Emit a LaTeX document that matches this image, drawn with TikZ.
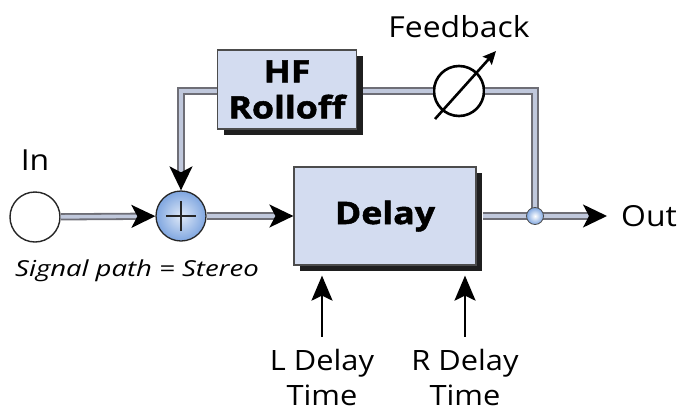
\documentclass[tikz,border=0pt]{standalone}
\usepackage{fontspec}
\setmainfont{Open Sans}[FakeStretch=1.1]
\newfontfamily\blockfont{Open Sans}[FakeStretch=1.15, BoldFeatures={FakeBold=1.6}]
\newfontfamily\notefont{Open Sans}[FakeStretch=1.25]
\usetikzlibrary{arrows.meta,shadows}

\definecolor{boxfill}{HTML}{D3DCF0}
\definecolor{pipeedge}{HTML}{6E6E76}
\definecolor{pipefill}{HTML}{C0C8DC}
\definecolor{ballblue}{HTML}{7FA6E0}

\begin{document}
\begin{tikzpicture}[x=1pt, y=-1pt,
  block/.style    = {draw=black!70, line width=1.2pt, fill=boxfill, align=center,
                     inner sep=0pt,
                     drop shadow={shadow xshift=6pt, shadow yshift=-6pt,
                                  fill=black!88, opacity=1}},
  pipe/.style     = {line width=1.8pt, draw=pipeedge, double=pipefill,
                     double distance=3.6pt},
  flow/.style     = {pipe, -{Stealth[length=24pt,width=23pt,inset=6pt,color=black]}},
  port/.style     = {circle, draw=black!85, line width=1.4pt, fill=white,
                     minimum size=50pt, inner sep=0pt},
  sum/.style      = {circle, draw=black!85, line width=1.3pt, minimum size=50pt,
                     inner sep=0pt, inner color=ballblue!25, outer color=ballblue,
                     path picture={
                       \draw[line width=2.4pt] (path picture bounding box.center)
                         +(-15pt,0) -- +(15pt,0) +(0,-15pt) -- +(0,15pt);}},
  dot/.style      = {circle, draw=black!70, line width=0.8pt, minimum size=17pt,
                     inner sep=0pt, inner color=white, outer color=ballblue},
  knob/.style     = {circle, draw=black, line width=2.6pt, fill=white,
                     minimum size=50pt, inner sep=0pt},
  knobarrow/.style= {line width=2.6pt, -{Stealth[length=13pt,width=12pt,inset=2pt]}},
  ctl/.style      = {line width=2.6pt, shorten >=10pt,
                     -{Stealth[length=25pt,width=21pt,inset=5pt]}},
  lbl/.style      = {font=\fontsize{29}{32}\selectfont, inner sep=3pt},
  note/.style     = {font=\notefont\itshape\fontsize{22}{24}\selectfont, inner sep=2pt},
  ctltext/.style  = {font=\fontsize{28}{35}\selectfont, align=center,
                     inner xsep=3pt, inner ysep=12pt},
]
  \useasboundingbox (0,0) rectangle (684,415);

  \node[port] (in) at (35,217) {};
  \node[lbl] (inlbl) at (35,160) {In};
  \node[sum] (sum) at (181,216) {};
  \node[block, minimum width=182pt, minimum height=98pt,
        font=\blockfont\bfseries\fontsize{31}{34}\selectfont] (delay) at (385,216) {Delay};
  \node[block, minimum width=139pt, minimum height=79pt,
        font=\blockfont\bfseries\fontsize{31}{36}\selectfont] (hf) at (287,89.5) {HF\\Rolloff};
  \node[knob] (fb) at (459,91) {};
  \node[lbl] (fblbl) at (459,27) {Feedback};
  \coordinate (jn) at (535,216);
  \node[lbl, anchor=west] (out) at (618,216) {Out};
  \node[note] (sig) at (137,271) {Signal path = Stereo};
  \node[ctltext] (ldt) at (322,377) {L Delay\\Time};
  \node[ctltext] (rdt) at (465,377) {R Delay\\Time};

  % signal path
  \draw[flow] (in) -- (sum);
  \draw[flow] (sum) -- (delay);
  \draw[flow, shorten <=6pt, shorten >=11pt] (delay) -- (out);

  % feedback loop
  \draw[pipe] (jn) -- (jn |- fb) -- (fb);
  \draw[pipe, shorten >=6pt] (fb) -- (hf.east |- fb);
  \draw[flow] (hf.west |- fb) -- (sum |- fb) -- (sum);
  \node[dot] (jdot) at (jn) {};
  \draw[knobarrow] ([shift={(-24,28)}]fb.center) -- ([shift={(37,-40)}]fb.center);

  % delay time controls
  \draw[ctl] (ldt) -- (ldt |- delay.south);
  \draw[ctl] (rdt) -- (rdt |- delay.south);
\end{tikzpicture}
\end{document}
